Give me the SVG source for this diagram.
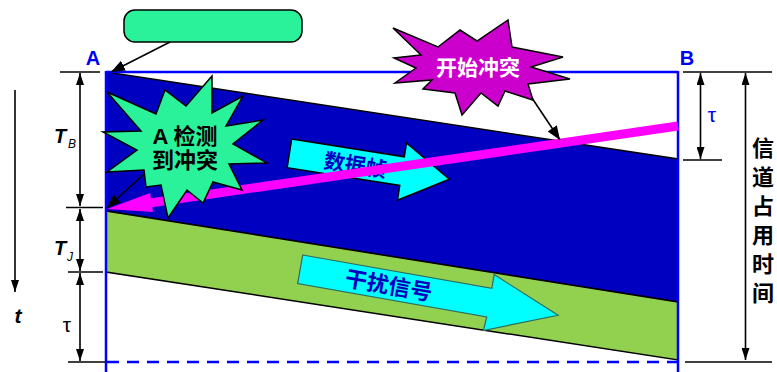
<svg xmlns="http://www.w3.org/2000/svg" width="777" height="372" viewBox="0 0 777 372">
<style>
.cjk{font-family:"Liberation Sans","Noto Sans CJK SC",sans-serif;font-weight:bold}
.lat{font-family:"Liberation Sans","Noto Sans CJK SC",sans-serif}
.dim{stroke:#000;stroke-width:1.6;fill:none}
.tick{stroke:#000;stroke-width:1.6}
</style>
<defs>
<marker id="dh" viewBox="0 0 12 8" refX="12" refY="4" markerWidth="12" markerHeight="8" markerUnits="userSpaceOnUse" orient="auto-start-reverse"><path d="M0,0 L12,4 L0,8 z" fill="#000"/></marker>
<marker id="ch" viewBox="0 0 14 11" refX="14" refY="5.5" markerWidth="14" markerHeight="11" markerUnits="userSpaceOnUse" orient="auto"><path d="M0,0 L14,5.5 L0,11 z" fill="#000"/></marker>
</defs>
<rect width="777" height="372" fill="#fff"/>

<g id="region-data">
<polygon points="106,72 678,159 678,302 106,211" fill="#0000C0" stroke="#000" stroke-width="1.5"/>
</g>
<g id="region-jam">
<polygon points="106,211 678,302 678,360 106,272" fill="#92D050" stroke="#000" stroke-width="1.5"/>
</g>

<g id="data-frame" transform="translate(291.7,139) rotate(9)">
<polygon points="0,0 114,0 114,-14 162,15 114,44 114,29 0,29" fill="#00FFFF" stroke="#000" stroke-width="1.5"/>
<text x="67" y="23.5" font-size="21" text-anchor="middle" class="cjk" fill="#0000C0">数据帧</text>
</g>

<g id="jam-signal" transform="translate(302.7,255) rotate(10)">
<polygon points="0,0 192,0 192,-14 262,15 191,43 192,29 0,29" fill="#00FFFF" stroke="#2E6B5E" stroke-width="1.2"/>
<text x="90" y="23" font-size="22" text-anchor="middle" class="cjk" fill="#0000C0">干扰信号</text>
</g>

<g id="channel">
<line x1="106" y1="72" x2="678" y2="72" stroke="#0000FF" stroke-width="2.5"/>
<line x1="106" y1="71" x2="106" y2="372" stroke="#0000FF" stroke-width="2.5"/>
<line x1="678" y1="71" x2="678" y2="372" stroke="#0000FF" stroke-width="2.5"/>
<line x1="107" y1="362" x2="677" y2="362" stroke="#0000FF" stroke-width="2.5" stroke-dasharray="12,8"/>
</g>

<g id="collision-signal">
<line x1="678" y1="126" x2="150" y2="203" stroke="#FF00FF" stroke-width="9"/>
<polygon points="107,209 152.9,212 150.1,193" fill="#FF00FF"/>
</g>

<g id="label-box">
<rect x="124" y="10" width="178" height="32" rx="11" fill="#2AF29A" stroke="#000" stroke-width="1.5"/>
</g>

<g id="star-detect">
<polygon points="212,76 212,113 243,96 226,126 263,120 233,144 267,163 229,164 242,190 213,182 203,203 187,190 168,218 161,185 146,187 144,170 107,172 137,150 103,132 141,131 107,92 156,114 165,90 186,106" fill="#2AF29A" stroke="#000" stroke-width="1.5"/>
<text x="185" y="144" font-size="22" text-anchor="middle" class="cjk" fill="#000">A 检测</text>
<text x="185" y="168" font-size="22" text-anchor="middle" class="cjk" fill="#000">到冲突</text>
</g>

<g id="star-collide">
<polygon points="393,28 438,47 460,30 477,41 508,20 512,47 563,57 531,67 570,79 528,84 533,100 505,91 498,106 481,93 462,115 455,93 423,89 432,80 395,83 416,68 394,58 421,55" fill="#CC00CC" stroke="#000" stroke-width="1.5"/>
<text x="478" y="75" font-size="21" text-anchor="middle" class="cjk" fill="#fff">开始冲突</text>
</g>

<g id="labels">
<text x="93" y="65" font-size="20" text-anchor="middle" class="lat" font-weight="bold" fill="#0000F0">A</text>
<text x="687" y="65" font-size="20" text-anchor="middle" class="lat" font-weight="bold" fill="#0000F0">B</text>
<text x="54" y="143" font-size="20" class="lat" font-weight="bold" font-style="italic">T</text>
<text x="68" y="148" font-size="12" class="lat" font-style="italic">B</text>
<text x="54" y="255" font-size="20" class="lat" font-weight="bold" font-style="italic">T</text>
<text x="67" y="261" font-size="12" class="lat" font-style="italic">J</text>
<text x="67" y="332" font-size="21" text-anchor="middle" class="lat">τ</text>
<text x="712" y="122" font-size="21" text-anchor="middle" class="lat" fill="#0000F0">τ</text>
<text x="18" y="323" font-size="21" text-anchor="middle" class="lat" font-weight="bold" font-style="italic">t</text>
<g class="cjk" font-size="22" text-anchor="middle" fill="#000">
<text x="763" y="156">信</text>
<text x="763" y="185">道</text>
<text x="763" y="214">占</text>
<text x="763" y="243">用</text>
<text x="763" y="272">时</text>
<text x="763" y="301">间</text>
</g>
</g>

<g id="connectors">
<line x1="170" y1="42" x2="111" y2="72" stroke="#000" stroke-width="1.6" marker-end="url(#ch)"/>
<line x1="143" y1="175" x2="107" y2="208" stroke="#000" stroke-width="1.6" marker-end="url(#ch)"/>
<line x1="532" y1="98" x2="560" y2="140" stroke="#000" stroke-width="1.6" marker-end="url(#ch)"/>
<line x1="60" y1="72" x2="100" y2="72" class="tick"/>
<line x1="66" y1="207.5" x2="103" y2="207.5" class="tick"/>
<line x1="68" y1="272" x2="103" y2="272" class="tick"/>
<line x1="68" y1="362" x2="105" y2="362" class="tick"/>
<line x1="80" y1="73" x2="80" y2="206" class="dim" marker-start="url(#dh)" marker-end="url(#dh)"/>
<line x1="80" y1="209" x2="80" y2="271" class="dim" marker-start="url(#dh)" marker-end="url(#dh)"/>
<line x1="80" y1="273" x2="80" y2="361" class="dim" marker-start="url(#dh)" marker-end="url(#dh)"/>
<line x1="15" y1="90" x2="15" y2="292" class="dim" marker-end="url(#dh)"/>
<line x1="683" y1="72" x2="772" y2="72" class="tick"/>
<line x1="683" y1="160" x2="722" y2="160" class="tick"/>
<line x1="685" y1="362" x2="772" y2="362" class="tick"/>
<line x1="700.5" y1="73" x2="700.5" y2="159" class="dim" marker-start="url(#dh)" marker-end="url(#dh)"/>
<line x1="745.5" y1="73" x2="745.5" y2="360" class="dim" marker-start="url(#dh)" marker-end="url(#dh)"/>
</g>
</svg>
